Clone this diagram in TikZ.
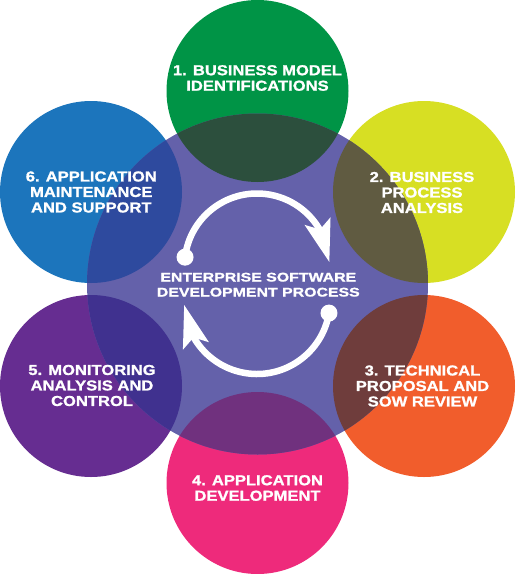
\documentclass[tikz,border=0pt]{standalone}
\usepackage{fontspec}
\setmainfont{Liberation Sans}
\newfontfamily\outerfont[FakeStretch=1.15,FakeBold=1.2]{Liberation Sans}
\newfontfamily\centerfont[FakeStretch=1.26,FakeBold=1.2]{Liberation Sans}
\usetikzlibrary{arrows.meta,bending}
\definecolor{cGreen}{HTML}{009446}
\definecolor{cYellow}{HTML}{D7DF23}
\definecolor{cOrange}{HTML}{F15D2C}
\definecolor{cPink}{HTML}{EE2A7B}
\definecolor{cPurple}{HTML}{662D91}
\definecolor{cBlue}{HTML}{1C75BC}
\definecolor{cCenter}{HTML}{6461AA}
\definecolor{oGreen}{HTML}{2C4F3D}
\definecolor{oYellow}{HTML}{605B41}
\definecolor{oOrange}{HTML}{6F3D3C}
\definecolor{oPink}{HTML}{70317E}
\definecolor{oPurple}{HTML}{40318F}
\definecolor{oBlue}{HTML}{2E4A9E}
\tikzset{
  outertext/.style={text=white, align=center, inner sep=0pt,
    font=\outerfont\bfseries\fontsize{14.4}{15.5}\selectfont},
  centertext/.style={text=white, align=center, inner sep=0pt,
    font=\centerfont\bfseries\fontsize{12.6}{15}\selectfont},
  cycarrow/.style={draw=white, line width=6.5pt,
    -{Stealth[length=42pt,width=26pt,inset=8pt,flex]}},
  dotstyle/.style={fill=white}
}
\begin{document}
\begin{tikzpicture}[x=1pt,y=-1pt]
\useasboundingbox (0,0) rectangle (515,574);
% circle centres
\coordinate (p1) at (257.5,91);
\coordinate (p2) at (424,192);
\coordinate (p3) at (424,386);
\coordinate (p4) at (257.5,483);
\coordinate (p5) at (91,386);
\coordinate (p6) at (91,192);
\coordinate (pc) at (257.5,284);
% outer circles
\fill[cGreen]  (p1) circle[radius=91];
\fill[cYellow] (p2) circle[radius=91];
\fill[cOrange] (p3) circle[radius=91];
\fill[cPink]   (p4) circle[radius=91];
\fill[cPurple] (p5) circle[radius=91];
\fill[cBlue]   (p6) circle[radius=91];
% central circle
\fill[cCenter] (pc) circle[radius=170.5];
% overlaps
\foreach \p/\c in {p1/oGreen,p2/oYellow,p3/oOrange,p4/oPink,p5/oPurple,p6/oBlue}{
  \begin{scope}
    \clip (\p) circle[radius=91];
    \fill[\c] (pc) circle[radius=170.5];
  \end{scope}
}
% cycle arrows
\coordinate (ua) at (257,266);
\coordinate (la) at (257,301);
\coordinate (d1) at ([shift={(-173:72.5)}]ua);
\coordinate (d2) at ([shift={(9.5:73)}]la);
\draw[cycarrow] (d1) arc[start angle=-173, end angle=-3, radius=72.5];
\draw[cycarrow] (d2) arc[start angle=9.5, end angle=177, radius=73];
\fill[dotstyle] (d1) circle[radius=8.5];
\fill[dotstyle] (d2) circle[radius=8.5];
% texts
\node[outertext] (t1) at (257.5,78) {1. BUSINESS MODEL\\IDENTIFICATIONS};
\node[outertext] (t2) at (422,192.5) {2. BUSINESS\\PROCESS\\ANALYSIS};
\node[outertext] (t3) at (422.5,386) {3. TECHNICAL\\PROPOSAL AND\\SOW REVIEW};
\node[outertext] (t4) at (257.5,488) {4. APPLICATION\\DEVELOPMENT};
\node[outertext] (t5) at (92,385.5) {5. MONITORING\\ANALYSIS AND\\CONTROL};
\node[outertext] (t6) at (91.3,192) {6. APPLICATION\\MAINTENANCE\\AND SUPPORT};
\node[centertext] (tc) at (258.3,284.7) {ENTERPRISE SOFTWARE\\DEVELOPMENT PROCESS};
\end{tikzpicture}
\end{document}
